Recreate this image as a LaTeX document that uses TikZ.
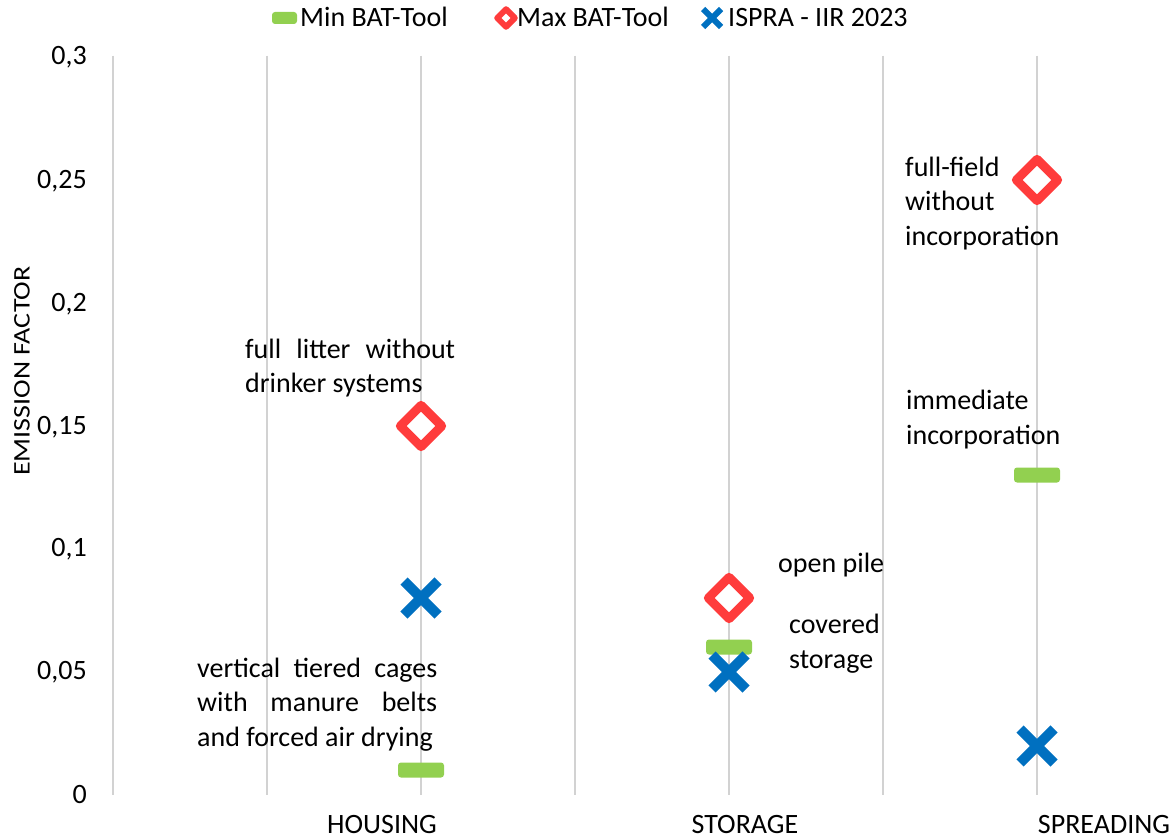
\documentclass[tikz,border=0pt]{standalone}
\usepackage{fontspec}
\setmainfont{Carlito}
\usetikzlibrary{shapes.geometric,shapes.misc}

\definecolor{batgreen}{RGB}{146,208,80}
\definecolor{batred}{RGB}{255,60,60}
\definecolor{isprablue}{RGB}{0,112,192}

\tikzset{
  gridline/.style={draw=gray!70, double=gray!35, line width=0.8pt, double distance=1.2pt},
  lbl/.style={inner sep=0pt, font=\fontsize{28}{34.5}\selectfont},
  minbar/.style={rectangle, rounded corners=3pt, fill=batgreen, inner sep=0pt, minimum width=46pt, minimum height=15pt},
  maxdia/.style={diamond, draw=batred, fill=white, line width=9pt, line join=round, inner sep=0pt, minimum size=45pt},
  isprax/.style={cross out, draw=isprablue, line width=10pt, inner sep=0pt, minimum size=24pt}
}

\begin{document}
\begin{tikzpicture}[x=1pt, y=-1pt]
\useasboundingbox (0,0) rectangle (1175,840);

% grid
\foreach \gx in {113,267,421,575,729,883,1037}
  \draw[gridline] (\gx,56) -- (\gx,795);

% value axis
\foreach \v/\tl in {0/0, 0.05/{0,05}, 0.1/{0,1}, 0.15/{0,15}, 0.2/{0,2}, 0.25/{0,25}, 0.3/{0,3}}
  \node[lbl, anchor=base east] (tick\tl) at (87,{803-2460*\v}) {\tl};
\node[lbl, rotate=90, yscale=0.85] (ytitle) at (22,371) {EMISSION FACTOR};

% categories
\node[lbl, anchor=base] (housing) at (382,833) {HOUSING};
\node[lbl, anchor=base] (storage) at (745,833) {STORAGE};
\node[lbl, anchor=base] (spreading) at (1104,833) {SPREADING};

% legend
\node[minbar, minimum width=25pt, minimum height=12pt] (legmin) at (284.5,18) {};
\node[lbl, anchor=base west] (legmintxt) at (300,27) {Min BAT-Tool};
\node[maxdia, line width=6pt, minimum size=20pt] (legmax) at (506,18) {};
\node[lbl, anchor=base west] (legmaxtxt) at (517,27) {Max BAT-Tool};
\node[isprax, line width=6pt, minimum size=12pt] (legispra) at (712,18) {};
\node[lbl, anchor=base west] (legispratxt) at (728,27) {ISPRA - IIR 2023};

% housing
\node[minbar] (hmin) at (421,770) {};
\node[maxdia] (hmax) at (421,426) {};
\node[isprax] (hispra) at (421,598) {};
% storage
\node[minbar] (smin) at (729,647) {};
\node[maxdia] (smax) at (729,598) {};
\node[isprax] (sispra) at (729,672) {};
% spreading
\node[minbar] (pmin) at (1037,475) {};
\node[maxdia] (pmax) at (1037,180) {};
\node[isprax] (pispra) at (1037,746) {};

% notes (base = last line)
\node[lbl, align=left, anchor=base west] (hmaxnote) at (245,392.5)
  {\makebox[210pt][s]{full litter without}\\drinker systems};
\node[lbl, align=left, anchor=base west] (hminnote) at (197,746)
  {\makebox[240pt][s]{vertical tiered cages}\\\makebox[240pt][s]{with manure belts}\\and forced air drying};
\node[lbl, anchor=base west] (smaxnote) at (778,572) {open pile};
\node[lbl, align=left, anchor=base west] (sminnote) at (789,668) {covered\\storage};
\node[lbl, align=left, anchor=base west] (pmaxnote) at (905,245) {full-field\\without\\incorporation};
\node[lbl, align=left, anchor=base west] (pminnote) at (906,444) {immediate\\incorporation};
\end{tikzpicture}
\end{document}
